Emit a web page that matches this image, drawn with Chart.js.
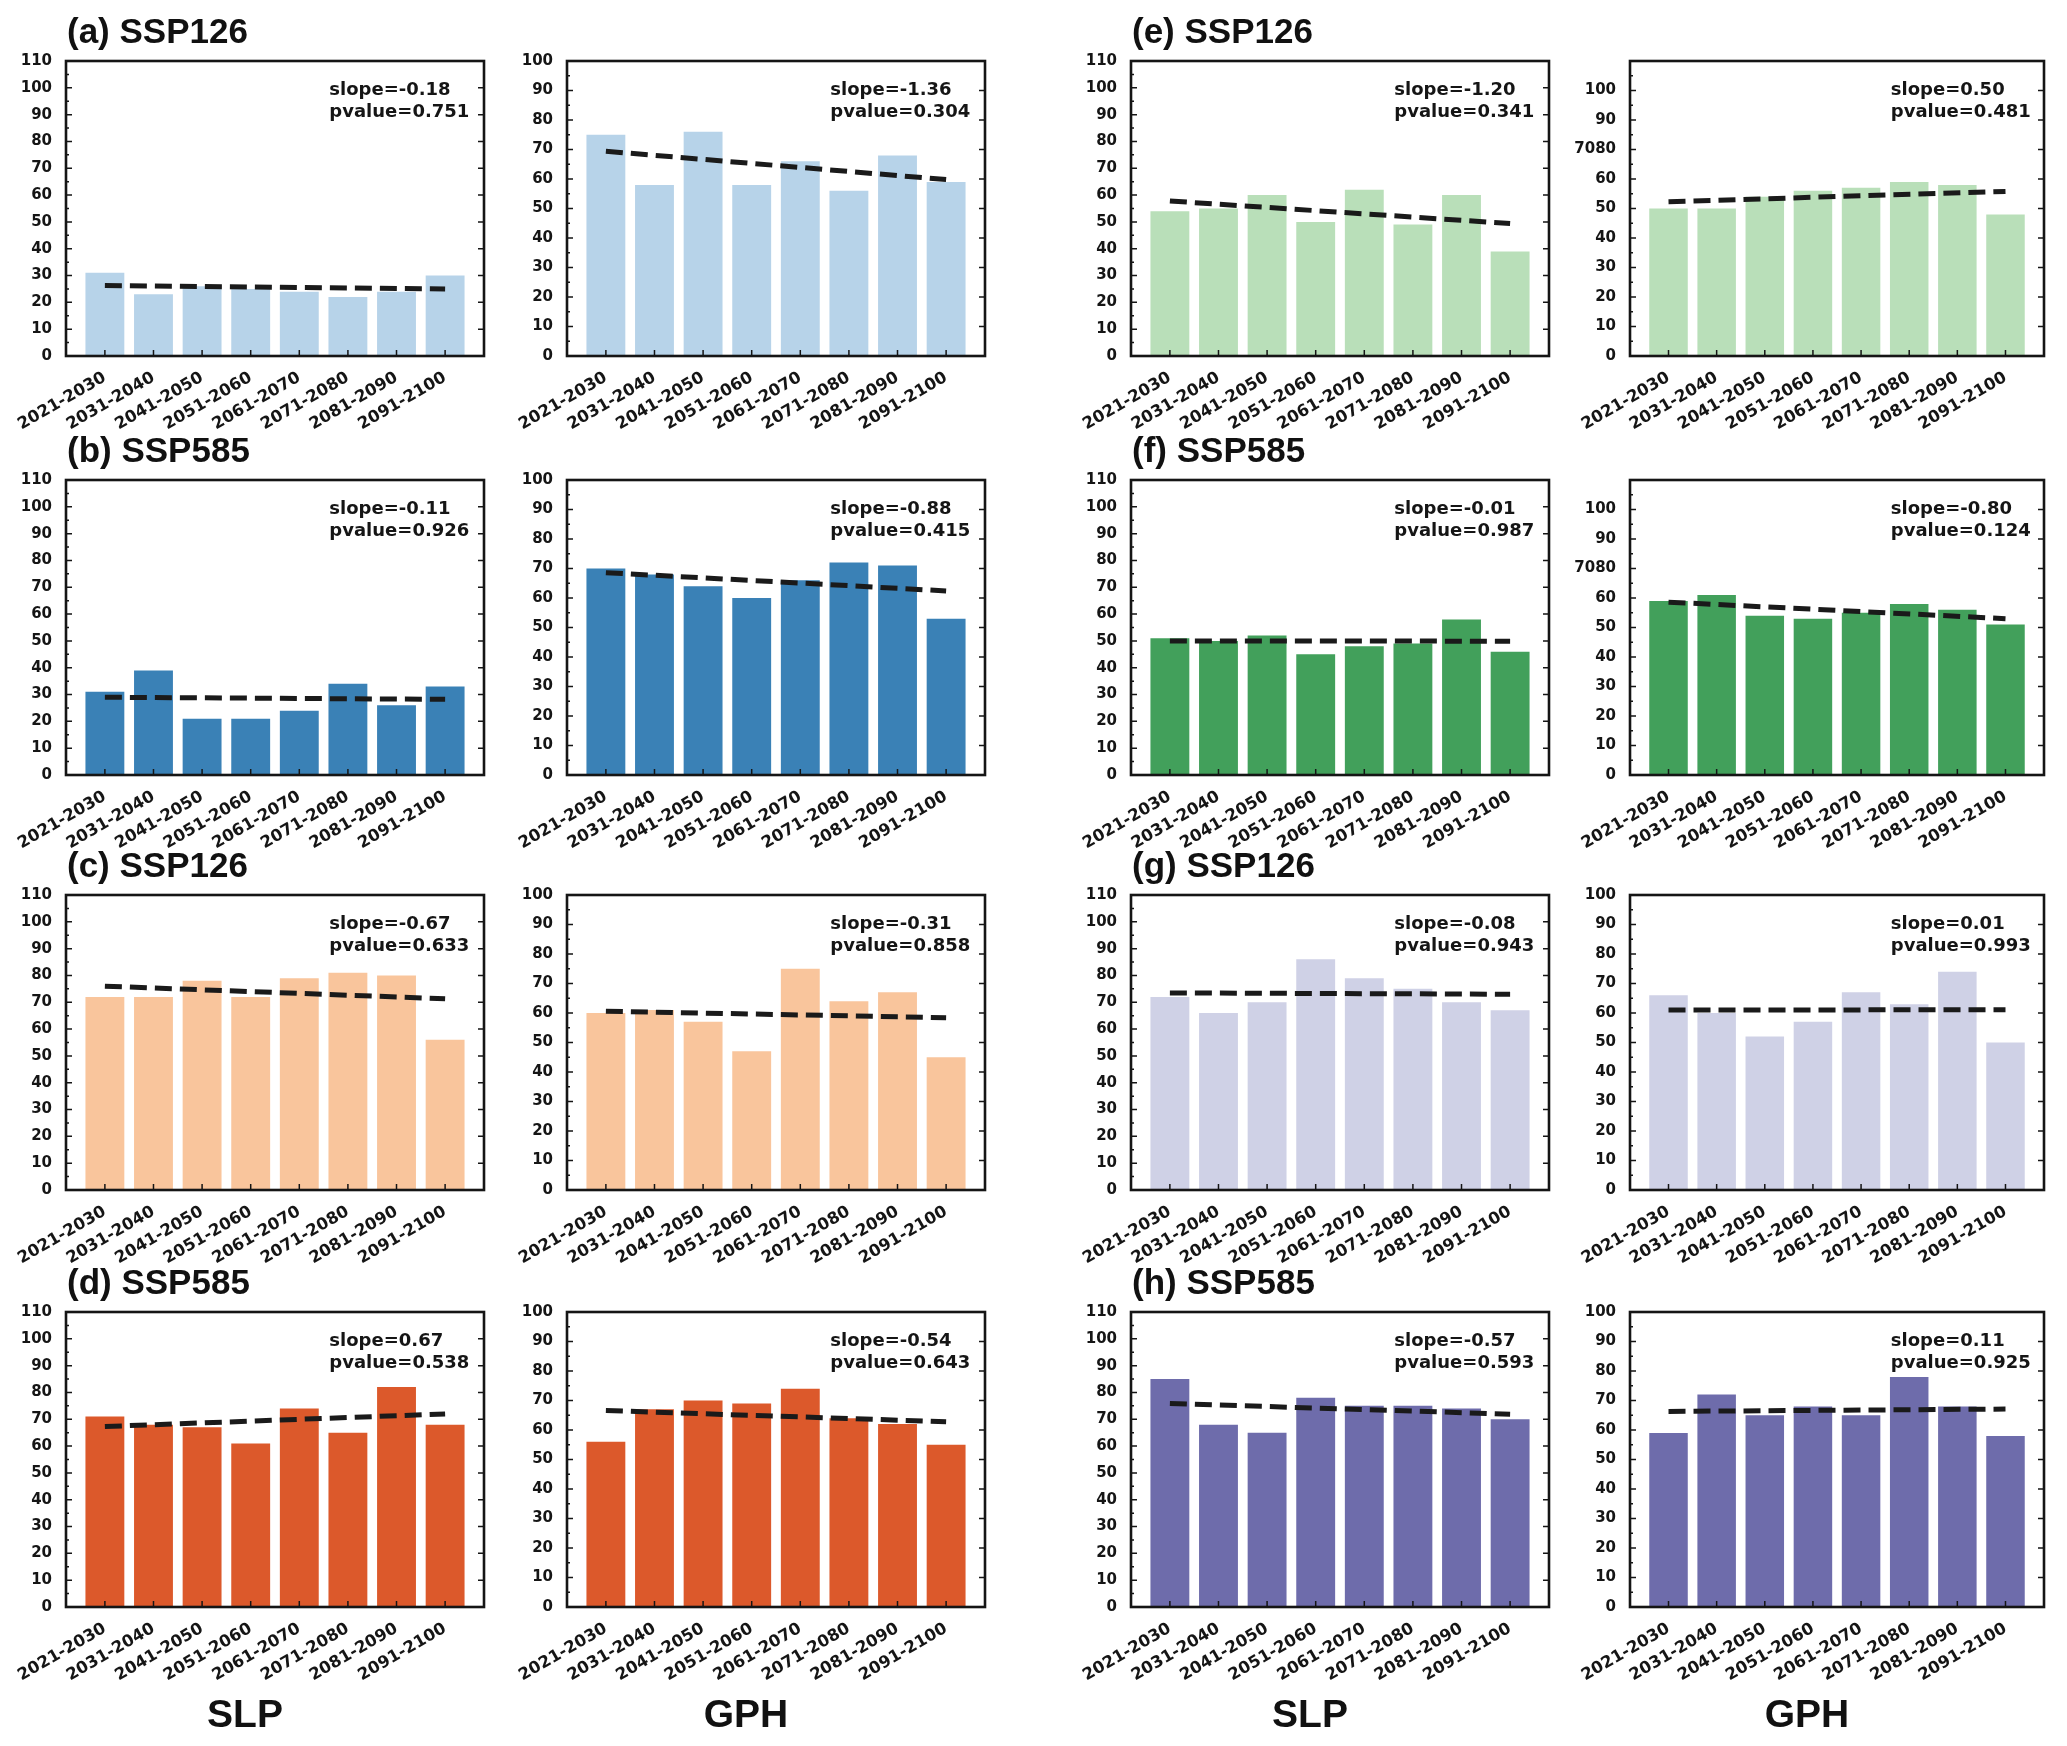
<!DOCTYPE html>
<html>
<head>
<meta charset="utf-8">
<script src="https://cdn.jsdelivr.net/npm/chart.js@4.4.1/dist/chart.umd.min.js"></script>
<style>
  body { margin: 0; background: #fff; }
  #fig { position: relative; width: 2067px; height: 1746px; background: #fff; overflow: hidden; }
  #fig canvas { position: absolute; }
  .ttl { position: absolute; font: bold 35px "Liberation Sans", Arial, sans-serif; color: #111; white-space: nowrap; line-height: 38px; }
  .var { position: absolute; font: bold 39px "Liberation Sans", Arial, sans-serif; color: #111; width: 200px; text-align: center; line-height: 44px; }
</style>
</head>
<body>
<div id="fig"></div>
<script>
// decades on the x axis
const periods = ['2021-2030', '2031-2040', '2041-2050', '2051-2060', '2061-2070', '2071-2080', '2081-2090', '2091-2100'];

// bar values, one array per panel (SLP left, GPH right)
const aSlp = [31, 23, 26, 25, 24, 22, 24, 30];
const aGph = [75, 58, 76, 58, 66, 56, 68, 59];
const bSlp = [31, 39, 21, 21, 24, 34, 26, 33];
const bGph = [70, 68, 64, 60, 66, 72, 71, 53];
const cSlp = [72, 72, 78, 72, 79, 81, 80, 56];
const cGph = [60, 61, 57, 47, 75, 64, 67, 45];
const dSlp = [71, 68, 67, 61, 74, 65, 82, 68];
const dGph = [56, 67, 70, 69, 74, 64, 62, 55];
const eSlp = [54, 55, 60, 50, 62, 49, 60, 39];
const eGph = [50, 50, 54, 56, 57, 59, 58, 48];
const fSlp = [51, 50, 52, 45, 48, 49, 58, 46];
const fGph = [59, 61, 54, 53, 55, 58, 56, 51];
const gSlp = [72, 66, 70, 86, 79, 75, 70, 67];
const gGph = [66, 60, 52, 57, 67, 63, 74, 50];
const hSlp = [85, 68, 65, 78, 75, 75, 74, 70];
const hGph = [59, 72, 65, 68, 65, 78, 68, 58];

// trend line value at first and last decade
const aSlpTrend = [26.3, 25.0];
const aGphTrend = [69.4, 59.8];
const bSlpTrend = [29.0, 28.2];
const bGphTrend = [68.6, 62.4];
const cSlpTrend = [76.0, 71.3];
const cGphTrend = [60.6, 58.4];
const dSlpTrend = [67.3, 72.0];
const dGphTrend = [66.6, 62.8];
const eSlpTrend = [57.8, 49.4];
const eGphTrend = [52.3, 55.8];
const fSlpTrend = [50.0, 49.9];
const fGphTrend = [58.6, 53.0];
const gSlpTrend = [73.5, 73.0];
const gGphTrend = [61.0, 61.1];
const hSlpTrend = [75.9, 71.9];
const hGphTrend = [66.3, 67.1];

// regression text
const aSlpStats = ['slope=-0.18', 'pvalue=0.751'];
const aGphStats = ['slope=-1.36', 'pvalue=0.304'];
const bSlpStats = ['slope=-0.11', 'pvalue=0.926'];
const bGphStats = ['slope=-0.88', 'pvalue=0.415'];
const cSlpStats = ['slope=-0.67', 'pvalue=0.633'];
const cGphStats = ['slope=-0.31', 'pvalue=0.858'];
const dSlpStats = ['slope=0.67', 'pvalue=0.538'];
const dGphStats = ['slope=-0.54', 'pvalue=0.643'];
const eSlpStats = ['slope=-1.20', 'pvalue=0.341'];
const eGphStats = ['slope=0.50', 'pvalue=0.481'];
const fSlpStats = ['slope=-0.01', 'pvalue=0.987'];
const fGphStats = ['slope=-0.80', 'pvalue=0.124'];
const gSlpStats = ['slope=-0.08', 'pvalue=0.943'];
const gGphStats = ['slope=0.01', 'pvalue=0.993'];
const hSlpStats = ['slope=-0.57', 'pvalue=0.593'];
const hGphStats = ['slope=0.11', 'pvalue=0.925'];

// tick labels
const ticks110 = ['0', '10', '20', '30', '40', '50', '60', '70', '80', '90', '100', '110'];
const ticks100 = ['0', '10', '20', '30', '40', '50', '60', '70', '80', '90', '100'];
const ticksOdd = ['0', '10', '20', '30', '40', '50', '60', '7080', '90', '100', ''];

const panelTitles = ['(a) SSP126', '(b) SSP585', '(c) SSP126', '(d) SSP585', '(e) SSP126', '(f) SSP585', '(g) SSP126', '(h) SSP585'];
const varNames = ['SLP', 'GPH', 'SLP', 'GPH'];
const colors = ['#b7d3e9', '#3a81b6', '#f9c59c', '#dc592b', '#b9dfb9', '#42a05b', '#cfd1e6', '#6e6cab'];

// layout
const colLeft = [66, 567, 1131, 1630];
const colWidth = [418, 418, 418, 414];
const rowTop = [58, 477, 892, 1309];
const plotH = 298;
const AX_W = 70, AX_H = 100, PAD_T = 12, PAD_R = 14;
const INK = '#151515';

const panels = [
  [0, 0, aSlp, aSlpTrend, aSlpStats, 0, ticks110], [0, 1, aGph, aGphTrend, aGphStats, 0, ticks100],
  [1, 0, bSlp, bSlpTrend, bSlpStats, 1, ticks110], [1, 1, bGph, bGphTrend, bGphStats, 1, ticks100],
  [2, 0, cSlp, cSlpTrend, cSlpStats, 2, ticks110], [2, 1, cGph, cGphTrend, cGphStats, 2, ticks100],
  [3, 0, dSlp, dSlpTrend, dSlpStats, 3, ticks110], [3, 1, dGph, dGphTrend, dGphStats, 3, ticks100],
  [0, 2, eSlp, eSlpTrend, eSlpStats, 4, ticks110], [0, 3, eGph, eGphTrend, eGphStats, 4, ticksOdd],
  [1, 2, fSlp, fSlpTrend, fSlpStats, 5, ticks110], [1, 3, fGph, fGphTrend, fGphStats, 5, ticksOdd],
  [2, 2, gSlp, gSlpTrend, gSlpStats, 6, ticks110], [2, 3, gGph, gGphTrend, gGphStats, 6, ticks100],
  [3, 2, hSlp, hSlpTrend, hSlpStats, 7, ticks110], [3, 3, hGph, hGphTrend, hGphStats, 7, ticks100]
];

// box, inward ticks and the slope/pvalue text
const framePlugin = {
  id: 'frame',
  afterDraw(chart, args, opts) {
    const ctx = chart.ctx;
    const a = chart.chartArea;
    const xs = chart.scales.x, ys = chart.scales.y;
    ctx.save();
    ctx.strokeStyle = INK;
    ctx.lineWidth = 1.5;
    ctx.beginPath();
    periods.forEach((p, i) => {
      const px = xs.getPixelForValue(i);
      ctx.moveTo(px, a.bottom);
      ctx.lineTo(px, a.bottom - 6);
    });
    for (let v = 0; v <= ys.max; v += 10) {
      const py = ys.getPixelForValue(v);
      ctx.moveTo(a.left, py); ctx.lineTo(a.left + 6, py);
      ctx.moveTo(a.right, py); ctx.lineTo(a.right - 6, py);
    }
    for (let v = 5; v < ys.max; v += 10) {
      const py = ys.getPixelForValue(v);
      ctx.moveTo(a.left, py); ctx.lineTo(a.left + 3, py);
    }
    ctx.stroke();
    ctx.lineWidth = 2.6;
    ctx.strokeRect(a.left, a.top, a.right - a.left, a.bottom - a.top);

    ctx.fillStyle = INK;
    ctx.font = 'bold 18px "DejaVu Sans"';
    ctx.textBaseline = 'middle';
    ctx.textAlign = 'left';
    const tx = a.left + 0.63 * (a.right - a.left);
    const h = a.bottom - a.top;
    ctx.fillText(opts.stats[0], tx, a.top + 0.10 * h);
    ctx.fillText(opts.stats[1], tx, a.top + 0.175 * h);
    ctx.restore();
  }
};

const fig = document.getElementById('fig');

panels.forEach(([row, col, values, trend, stats, ci, tickLabels]) => {
  const w = AX_W + colWidth[col] + PAD_R;
  const h = PAD_T + plotH + AX_H;
  const canvas = document.createElement('canvas');
  canvas.width = w;
  canvas.height = h;
  canvas.style.left = (colLeft[col] - AX_W) + 'px';
  canvas.style.top = (rowTop[row] - PAD_T) + 'px';
  canvas.style.width = w + 'px';
  canvas.style.height = h + 'px';
  fig.appendChild(canvas);

  const yMax = (tickLabels.length - 1) * 10;
  new Chart(canvas, {
    type: 'bar',
    data: {
      datasets: [
        {
          type: 'line',
          data: [{ x: 0, y: trend[0] }, { x: periods.length - 1, y: trend[1] }],
          borderColor: '#1a1a1a',
          borderWidth: 5,
          borderDash: [17, 8],
          borderCapStyle: 'butt',
          pointRadius: 0,
          fill: false,
          order: 0
        },
        {
          type: 'bar',
          data: values.map((v, i) => ({ x: i, y: v })),
          backgroundColor: colors[ci],
          borderWidth: 0,
          barPercentage: 0.8,
          categoryPercentage: 1.0,
          order: 1
        }
      ]
    },
    options: {
      responsive: false,
      animation: false,
      devicePixelRatio: 1,
      layout: { padding: { top: PAD_T, right: PAD_R, left: 0, bottom: 0 } },
      plugins: {
        legend: { display: false },
        tooltip: { enabled: false },
        frame: { stats: stats }
      },
      scales: {
        x: {
          type: 'linear',
          min: -0.8,
          max: periods.length - 0.2,
          offset: false,
          grid: { display: false, offset: false },
          border: { display: false },
          afterBuildTicks: (s) => { s.ticks = periods.map((p, i) => ({ value: i })); },
          afterFit: (s) => { s.height = AX_H; },
          ticks: {
            autoSkip: false,
            maxRotation: 30,
            minRotation: 30,
            padding: 4,
            color: INK,
            font: { family: 'DejaVu Sans', weight: 'bold', size: 16.5 },
            callback: (v) => periods[Math.round(v)]
          }
        },
        y: {
          min: 0,
          max: yMax,
          grid: { display: false },
          border: { display: false },
          afterFit: (s) => { s.width = AX_W; },
          ticks: {
            stepSize: 10,
            autoSkip: false,
            padding: 6,
            color: INK,
            font: { family: 'DejaVu Sans', weight: 'bold', size: 15 },
            callback: (v) => tickLabels[Math.round(v / 10)]
          }
        }
      }
    },
    plugins: [framePlugin]
  });
});

// panel titles
panelTitles.forEach((t, k) => {
  const col = k < 4 ? 0 : 2;
  const row = k % 4;
  const d = document.createElement('div');
  d.className = 'ttl';
  d.textContent = t;
  d.style.left = (colLeft[col] + 1) + 'px';
  d.style.top = (rowTop[row] - 46) + 'px';
  fig.appendChild(d);
});

// variable names under each column
varNames.forEach((t, col) => {
  const d = document.createElement('div');
  d.className = 'var';
  d.textContent = t;
  d.style.left = (colLeft[col] + colWidth[col] / 2 - 100 - 30) + 'px';
  d.style.top = '1692px';
  fig.appendChild(d);
});
</script>
</body>
</html>
